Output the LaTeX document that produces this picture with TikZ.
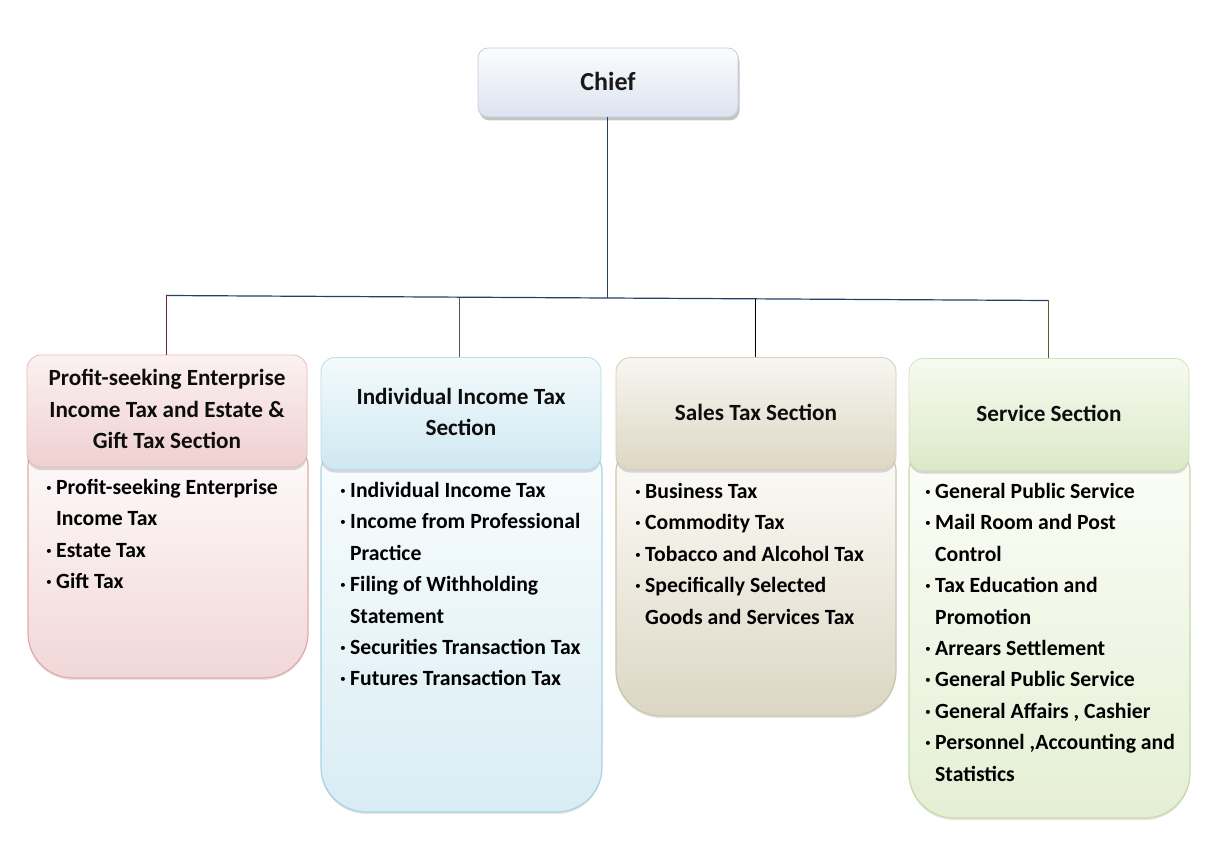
\documentclass[tikz,border=0pt]{standalone}
\usepackage{fontspec}
\setmainfont{Carlito}
\usetikzlibrary{shadows}
\definecolor{navy}{HTML}{243F60}
\definecolor{cRed}{HTML}{6B2430}
\definecolor{cGray}{HTML}{555555}
\definecolor{cOlive}{HTML}{4F6228}
\definecolor{chT}{HTML}{FBFCFE}
\definecolor{chB}{HTML}{DCE4F0}
\definecolor{chD}{HTML}{C5CFDC}
\definecolor{pkHT}{HTML}{FCF1F1}
\definecolor{pkHB}{HTML}{EFD0D1}
\definecolor{pkHD}{HTML}{E8BCBD}
\definecolor{pkBT}{HTML}{FEFAFA}
\definecolor{pkBB}{HTML}{F1D7D8}
\definecolor{pkBD}{HTML}{E4A9AC}
\definecolor{blHT}{HTML}{F3FAFC}
\definecolor{blHB}{HTML}{CFE8F1}
\definecolor{blHD}{HTML}{B7DDE9}
\definecolor{blBT}{HTML}{F8FCFD}
\definecolor{blBB}{HTML}{D9EDF4}
\definecolor{blBD}{HTML}{A6D4E3}
\definecolor{tnHT}{HTML}{F7F6F1}
\definecolor{tnHB}{HTML}{DDD7C3}
\definecolor{tnHD}{HTML}{D6D0BB}
\definecolor{tnBT}{HTML}{FCFBF8}
\definecolor{tnBB}{HTML}{DCD6C3}
\definecolor{tnBD}{HTML}{CDC6AE}
\definecolor{grHT}{HTML}{F7FBF0}
\definecolor{grHB}{HTML}{DCE9C8}
\definecolor{grHD}{HTML}{D3E2BC}
\definecolor{grBT}{HTML}{FBFDF7}
\definecolor{grBB}{HTML}{E5EFD4}
\definecolor{grBD}{HTML}{C8DAA6}
\newcommand\bul{\makebox[10pt][l]{·}}
\newcommand\ind{\hspace*{10pt}}
\tikzset{
  x=1pt, y=1pt,
  chiefbox/.style={rectangle, rounded corners=10pt, minimum width=260pt, minimum height=69pt,
    draw=chD, line width=0.8pt, top color=chT, bottom color=chB,
    font=\bfseries\fontsize{26}{30}\selectfont, text=black!90,
    drop shadow={shadow xshift=1.5pt, shadow yshift=-3.5pt, opacity=0.45}},
  hdr/.style={rectangle, rounded corners=14pt, minimum width=280pt, minimum height=112pt,
    align=center, line width=0.8pt, font=\bfseries\fontsize{23.2}{31.5}\selectfont, text=black!95,
    drop shadow={shadow xshift=0pt, shadow yshift=-3pt, opacity=0.3}},
  bodyst/.style={line width=1.2pt, drop shadow={shadow xshift=0pt, shadow yshift=-2pt, opacity=0.2}},
  item/.style={anchor=north west, inner sep=0pt, align=left, font=\bfseries\fontsize{21.7}{31.45}\selectfont},
  conn/.style={line width=0.9pt},
}
\begin{document}
\begin{tikzpicture}
\useasboundingbox (0,0) rectangle (1218,-842);
\fill[white] (0,0) rectangle (1218,-842);

% bodies
\draw[bodyst, draw=pkBD, top color=pkBT, bottom color=pkBB]
  (28,-465) arc(180:90:15) -- (293,-450) arc(90:0:15) -- (308,-633) arc(0:-90:45) -- (73,-678) arc(270:180:45) -- cycle;
\draw[bodyst, draw=blBD, top color=blBT, bottom color=blBB]
  (321,-470) arc(180:90:15) -- (587,-455) arc(90:0:15) -- (602,-767) arc(0:-90:45) -- (366,-812) arc(270:180:45) -- cycle;
\draw[bodyst, draw=tnBD, top color=tnBT, bottom color=tnBB]
  (616,-470) arc(180:90:15) -- (881,-455) arc(90:0:15) -- (896,-671) arc(0:-90:45) -- (661,-716) arc(270:180:45) -- cycle;
\draw[bodyst, draw=grBD, top color=grBT, bottom color=grBB]
  (909,-470) arc(180:90:15) -- (1175,-455) arc(90:0:15) -- (1190,-773) arc(0:-90:45) -- (954,-818) arc(270:180:45) -- cycle;

% headers
\node[hdr, draw=pkHD, top color=pkHT, bottom color=pkHB] (h1) at (167,-411)
  {\raisebox{1.5pt}{\begin{tabular}{@{}c@{}}Profit-seeking Enterprise\\Income Tax and Estate \&\\Gift Tax Section\end{tabular}}};
\node[hdr, draw=blHD, top color=blHT, bottom color=blHB] (h2) at (461,-413.5)
  {\raisebox{2pt}{\begin{tabular}{@{}c@{}}Individual Income Tax\\Section\end{tabular}}};
\node[hdr, draw=tnHD, top color=tnHT, bottom color=tnHB] (h3) at (756,-413.5)
  {\raisebox{2pt}{Sales Tax Section}};
\node[hdr, draw=grHD, top color=grHT, bottom color=grHB] (h4) at (1049,-414.5)
  {\raisebox{2pt}{Service Section}};

% chief
\node[chiefbox] (chief) at (608,-82.5) {\raisebox{2.5pt}{Chief}};

% items
\node[item] (i1) at (46,-472) {\strut\bul Profit-seeking Enterprise\\\ind Income Tax\\\bul Estate Tax\\\bul Gift Tax};
\node[item] (i2) at (340,-475) {\strut\bul Individual Income Tax\\\bul Income from Professional\\\ind Practice\\\bul Filing of Withholding\\\ind Statement\\\bul Securities Transaction Tax\\\bul Futures Transaction Tax};
\node[item] (i3) at (635,-476) {\strut\bul Business Tax\\\bul Commodity Tax\\\bul Tobacco and Alcohol Tax\\\bul Specifically Selected\\\ind Goods and Services Tax};
\node[item] (i4) at (925,-476) {\strut\bul General Public Service\\\bul Mail Room and Post\\\ind Control\\\bul Tax Education and\\\ind Promotion\\\bul Arrears Settlement\\\bul General Public Service\\\bul General Affairs , Cashier\\\bul Personnel ,Accounting and\\\ind Statistics};

% connectors
\coordinate (b1) at (166,-295.5);
\coordinate (b2) at (459,-297.2);
\coordinate (jc) at (607,-298);
\coordinate (b3) at (755,-298.9);
\coordinate (b4) at (1048,-300.5);
\draw[conn, navy] (chief.south -| jc) -- (jc);
\draw[conn, navy, line width=1.2pt] (b1) -- (b4);
\draw[conn, cRed] (b1) -- (b1 |- h1.north);
\draw[conn, cGray] (b2) -- (b2 |- h2.north);
\draw[conn, black] (b3) -- (b3 |- h3.north);
\draw[conn, cOlive] (b4) -- (b4 |- h4.north);
\end{tikzpicture}
\end{document}
